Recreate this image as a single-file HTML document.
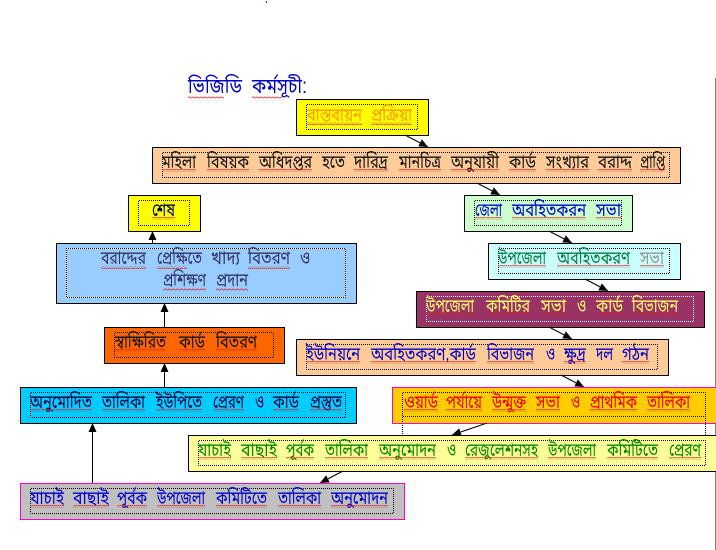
<!DOCTYPE html>
<html><head><meta charset="utf-8"><style>
html,body{margin:0;padding:0;background:#fff}
svg{display:block}
text{font-family:"Liberation Sans","Noto Sans Bengali","Lohit Bengali","FreeSans","DejaVu Sans",sans-serif;font-size:18px}
.b{stroke:#000;stroke-width:1}
.d{fill:none;stroke:#000;stroke-width:1;stroke-dasharray:1 1;stroke-dashoffset:1.5}
.dw{fill:none;stroke:#fff;stroke-width:1;stroke-dasharray:1 1;stroke-dashoffset:1.5}
.a{stroke:#000;stroke-width:1}
.w{fill:url(#wv)}
</style></head><body>
<svg width="716" height="550" viewBox="0 0 716 550" xmlns="http://www.w3.org/2000/svg">
<defs>
<pattern id="wv" width="4" height="3" patternUnits="userSpaceOnUse"><path d="M0 2L1 1L2 1L3 2L4 2" fill="none" stroke="#e02020" stroke-width=".8"/></pattern>
<marker id="ah" markerWidth="10" markerHeight="9" refX="9" refY="4" orient="auto" markerUnits="userSpaceOnUse"><path d="M0 0L9 4L0 8Z" fill="#000"/></marker>
</defs>
<line x1="715.5" y1="78" x2="715.5" y2="550" stroke="#000" stroke-width="1" stroke-dasharray="1 1" stroke-dashoffset="1.5"/>
<rect x="266" y="1" width="1" height="2" fill="#33c"/>

<g fill="#00c">
<text x="188" y="93" style="font-size:21px" textLength="54" lengthAdjust="spacingAndGlyphs">ভিজিডি</text>
<text x="252" y="93" style="font-size:21px" textLength="55" lengthAdjust="spacingAndGlyphs">কর্মসূচী:</text>
</g>
<rect class="w" x="188" y="96" width="36" height="3"/><rect class="w" x="252" y="96" width="30" height="3"/>

<rect class="b" x="296.5" y="99.5" width="132" height="36" fill="#ff0"/>
<rect class="d" x="306.5" y="104.5" width="111" height="25"/>
<rect class="b" x="152.5" y="147.5" width="528" height="36" fill="#fc9"/>
<rect class="d" x="162.5" y="152.5" width="507" height="25"/>
<rect class="b" x="128.5" y="195.5" width="72" height="36" fill="#ff0"/>
<rect class="d" x="138.5" y="200.5" width="51" height="25"/>
<rect class="b" x="464.5" y="195.5" width="168" height="36" fill="#cfc"/>
<rect class="d" x="474.5" y="200.5" width="147" height="25"/>
<rect class="b" x="488.5" y="243.5" width="192" height="36" fill="#cff"/>
<rect class="d" x="498.5" y="248.5" width="171" height="25"/>
<rect class="b" x="56.5" y="243.5" width="300" height="60" fill="#9cf"/>
<rect class="dw" x="66.5" y="248.5" width="279" height="49"/>
<rect class="d" x="66.5" y="248.5" width="279" height="49" stroke-dashoffset=".5" style="stroke-dashoffset:.5"/>
<rect class="b" x="416.5" y="291.5" width="288" height="36" fill="#936"/>
<rect class="dw" x="426.5" y="296.5" width="267" height="25"/>
<rect class="b" x="296.5" y="339.5" width="372" height="36" fill="#fc9"/>
<rect class="d" x="306.5" y="344.5" width="351" height="25"/>
<rect class="b" x="104.5" y="327.5" width="180" height="36" fill="#f60"/>
<rect class="d" x="114.5" y="332.5" width="159" height="25"/>
<rect class="b" x="20.5" y="387.5" width="336" height="36" fill="#0cf"/>
<rect class="d" x="30.5" y="392.5" width="315" height="25"/>
<rect x="392.5" y="387.5" width="330" height="36" fill="#fc0" stroke="#f0c" stroke-width="1"/>
<rect class="d" x="402.5" y="392.5" width="303" height="48"/>
<line x1="402.5" y1="416.5" x2="705.5" y2="416.5" stroke="#000" stroke-dasharray="1 1" stroke-dashoffset="1.5"/>
<rect class="b" x="188.5" y="435.5" width="535" height="36" fill="#ff9"/>
<rect class="d" x="198.5" y="440.5" width="507" height="25"/>
<rect x="20.5" y="483.5" width="384" height="36" fill="#c0c0c0" stroke="#f0c" stroke-width="1"/>
<rect class="d" x="30.5" y="488.5" width="363" height="25"/>

<g class="a">
<line x1="405" y1="135" x2="428" y2="147" marker-end="url(#ah)"/>
<line x1="477" y1="183" x2="500" y2="195" marker-end="url(#ah)"/>
<line x1="549" y1="231" x2="572" y2="243" marker-end="url(#ah)"/>
<line x1="585" y1="279" x2="608" y2="291" marker-end="url(#ah)"/>
<line x1="549" y1="327" x2="572" y2="339" marker-end="url(#ah)"/>
<line x1="561" y1="375" x2="584" y2="387" marker-end="url(#ah)"/>
<line x1="487" y1="423" x2="452" y2="435" marker-end="url(#ah)"/>
<line x1="343" y1="471" x2="320" y2="483" marker-end="url(#ah)"/>
<line x1="92.5" y1="483" x2="92.5" y2="423" marker-end="url(#ah)"/>
<line x1="164.5" y1="387" x2="164.5" y2="363" marker-end="url(#ah)"/>
<line x1="164.5" y1="327" x2="164.5" y2="303" marker-end="url(#ah)"/>
<line x1="152.5" y1="243" x2="152.5" y2="231" marker-end="url(#ah)"/>
</g>

<g>
<g fill="#f90">
<text x="307" y="121" textLength="55" lengthAdjust="spacingAndGlyphs">বাস্তবায়ন</text>
<text x="371" y="121" textLength="41" lengthAdjust="spacingAndGlyphs">প্রক্রিয়া</text>
</g>
<g fill="#111">
<text x="162" y="168" textLength="34" lengthAdjust="spacingAndGlyphs">মহিলা</text>
<text x="207" y="168" textLength="42" lengthAdjust="spacingAndGlyphs">বিষয়ক</text>
<text x="259" y="168" textLength="53" lengthAdjust="spacingAndGlyphs">অধিদপ্তর</text>
<text x="322" y="168" textLength="23" lengthAdjust="spacingAndGlyphs">হতে</text>
<text x="354" y="168" textLength="34" lengthAdjust="spacingAndGlyphs">দারিদ্র</text>
<text x="399" y="168" textLength="42" lengthAdjust="spacingAndGlyphs">মানচিত্র</text>
<text x="451" y="168" textLength="48" lengthAdjust="spacingAndGlyphs">অনুযায়ী</text>
<text x="509" y="168" textLength="27" lengthAdjust="spacingAndGlyphs">কার্ড</text>
<text x="546" y="168" textLength="43" lengthAdjust="spacingAndGlyphs">সংখ্যার</text>
<text x="598" y="168" textLength="34" lengthAdjust="spacingAndGlyphs">বরাদ্দ</text>
<text x="640" y="168" textLength="25" lengthAdjust="spacingAndGlyphs">প্রাপ্তি</text>
<text x="115" y="348" textLength="51" lengthAdjust="spacingAndGlyphs">স্বাক্ষিরিত</text>
<text x="179" y="348" textLength="26" lengthAdjust="spacingAndGlyphs">কার্ড</text>
<text x="216" y="348" textLength="41" lengthAdjust="spacingAndGlyphs">বিতরণ</text>
</g>
<g fill="#006">
<text x="152" y="216" textLength="23" lengthAdjust="spacingAndGlyphs">শেষ</text>
</g>
<g fill="#00c">
<text x="475" y="216" textLength="27" lengthAdjust="spacingAndGlyphs">জেলা</text>
<text x="512" y="216" textLength="74" lengthAdjust="spacingAndGlyphs">অবহিতকরন</text>
<text x="596" y="216" textLength="25" lengthAdjust="spacingAndGlyphs">সভা</text>
<text x="306" y="360" textLength="54" lengthAdjust="spacingAndGlyphs">ইউনিয়নে</text>
<text x="371" y="360" textLength="105" lengthAdjust="spacingAndGlyphs">অবহিতকরণ,কার্ড</text>
<text x="487" y="360" textLength="47" lengthAdjust="spacingAndGlyphs">বিভাজন</text>
<text x="546" y="360" textLength="9" lengthAdjust="spacingAndGlyphs">ও</text>
<text x="564" y="360" textLength="22" lengthAdjust="spacingAndGlyphs">ক্ষুদ্র</text>
<text x="596" y="360" textLength="17" lengthAdjust="spacingAndGlyphs">দল</text>
<text x="622" y="360" textLength="27" lengthAdjust="spacingAndGlyphs">গঠন</text>
<text x="30" y="504" textLength="34" lengthAdjust="spacingAndGlyphs">যাচাই</text>
<text x="73" y="504" textLength="36" lengthAdjust="spacingAndGlyphs">বাছাই</text>
<text x="117" y="504" textLength="30" lengthAdjust="spacingAndGlyphs">পূর্বক</text>
<text x="157" y="504" textLength="48" lengthAdjust="spacingAndGlyphs">উপজেলা</text>
<text x="216" y="504" textLength="51" lengthAdjust="spacingAndGlyphs">কমিটিতে</text>
<text x="278" y="504" textLength="43" lengthAdjust="spacingAndGlyphs">তালিকা</text>
<text x="331" y="504" textLength="57" lengthAdjust="spacingAndGlyphs">অনুমোদন</text>
</g>
<g fill="#008040">
<text x="498" y="264" textLength="48" lengthAdjust="spacingAndGlyphs">উপজেলা</text>
<text x="557" y="264" textLength="73" lengthAdjust="spacingAndGlyphs">অবহিতকরণ</text>
</g>
<text x="640" y="264" fill="#969696" textLength="24" lengthAdjust="spacingAndGlyphs">সভা</text>
<g fill="#336">
<text x="101" y="264" textLength="45" lengthAdjust="spacingAndGlyphs">বরাদ্দের</text>
<text x="157" y="264" textLength="45" lengthAdjust="spacingAndGlyphs">প্রেক্ষিতে</text>
<text x="211" y="264" textLength="29" lengthAdjust="spacingAndGlyphs">খাদ্য</text>
<text x="248" y="264" textLength="42" lengthAdjust="spacingAndGlyphs">বিতরণ</text>
<text x="300" y="264" textLength="10" lengthAdjust="spacingAndGlyphs">ও</text>
<text x="163" y="286" textLength="43" lengthAdjust="spacingAndGlyphs">প্রশিক্ষণ</text>
<text x="216" y="286" textLength="32" lengthAdjust="spacingAndGlyphs">প্রদান</text>
</g>
<g fill="#ff6">
<text x="426" y="312" textLength="48" lengthAdjust="spacingAndGlyphs">উপজেলা</text>
<text x="486" y="312" textLength="44" lengthAdjust="spacingAndGlyphs">কমিটির</text>
<text x="541" y="312" textLength="25" lengthAdjust="spacingAndGlyphs">সভা</text>
<text x="577" y="312" textLength="9" lengthAdjust="spacingAndGlyphs">ও</text>
<text x="596" y="312" textLength="27" lengthAdjust="spacingAndGlyphs">কার্ড</text>
<text x="632" y="312" textLength="46" lengthAdjust="spacingAndGlyphs">বিভাজন</text>
</g>
<g fill="#004">
<text x="30" y="408" textLength="62" lengthAdjust="spacingAndGlyphs">অনুমোদিত</text>
<text x="102" y="408" textLength="43" lengthAdjust="spacingAndGlyphs">তালিকা</text>
<text x="156" y="408" textLength="46" lengthAdjust="spacingAndGlyphs">ইউপিতে</text>
<text x="213" y="408" textLength="31" lengthAdjust="spacingAndGlyphs">প্রেরণ</text>
<text x="255" y="408" textLength="9" lengthAdjust="spacingAndGlyphs">ও</text>
<text x="273" y="408" textLength="26" lengthAdjust="spacingAndGlyphs">কার্ড</text>
<text x="310" y="408" textLength="32" lengthAdjust="spacingAndGlyphs">প্রস্তুত</text>
</g>
<g fill="#e00">
<text x="404" y="408" textLength="34" lengthAdjust="spacingAndGlyphs">ওয়ার্ড</text>
<text x="446" y="408" textLength="36" lengthAdjust="spacingAndGlyphs">পর্যায়ে</text>
<text x="492" y="408" textLength="34" lengthAdjust="spacingAndGlyphs">উন্মুক্ত</text>
<text x="536" y="408" textLength="24" lengthAdjust="spacingAndGlyphs">সভা</text>
<text x="571" y="408" textLength="9" lengthAdjust="spacingAndGlyphs">ও</text>
<text x="590" y="408" textLength="47" lengthAdjust="spacingAndGlyphs">প্রাথমিক</text>
<text x="647" y="408" textLength="43" lengthAdjust="spacingAndGlyphs">তালিকা</text>
</g>
<g fill="#080">
<text x="198" y="456" textLength="33" lengthAdjust="spacingAndGlyphs">যাচাই</text>
<text x="241" y="456" textLength="36" lengthAdjust="spacingAndGlyphs">বাছাই</text>
<text x="286" y="456" textLength="28" lengthAdjust="spacingAndGlyphs">পূর্বক</text>
<text x="325" y="456" textLength="43" lengthAdjust="spacingAndGlyphs">তালিকা</text>
<text x="379" y="456" textLength="57" lengthAdjust="spacingAndGlyphs">অনুমোদন</text>
<text x="447" y="456" textLength="9" lengthAdjust="spacingAndGlyphs">ও</text>
<text x="465" y="456" textLength="73" lengthAdjust="spacingAndGlyphs">রেজুলেশনসহ</text>
<text x="548" y="456" textLength="48" lengthAdjust="spacingAndGlyphs">উপজেলা</text>
<text x="607" y="456" textLength="51" lengthAdjust="spacingAndGlyphs">কমিটিতে</text>
<text x="669" y="456" textLength="32" lengthAdjust="spacingAndGlyphs">প্রেরণ</text>
</g>
</g>

<rect class="w" x="307" y="122" width="55" height="3"/><rect class="w" x="371" y="122" width="41" height="3"/>
<rect class="w" x="162" y="169" width="34" height="3"/><rect class="w" x="207" y="169" width="42" height="3"/><rect class="w" x="259" y="169" width="53" height="3"/><rect class="w" x="354" y="169" width="34" height="3"/><rect class="w" x="399" y="169" width="42" height="3"/><rect class="w" x="451" y="169" width="48" height="3"/><rect class="w" x="509" y="169" width="27" height="3"/><rect class="w" x="546" y="169" width="43" height="3"/><rect class="w" x="598" y="169" width="34" height="3"/><rect class="w" x="640" y="169" width="25" height="3"/>
<rect class="w" x="152" y="217" width="23" height="3"/>
<rect class="w" x="475" y="217" width="27" height="3"/><rect class="w" x="512" y="217" width="74" height="3"/><rect class="w" x="596" y="217" width="25" height="3"/>
<rect class="w" x="498" y="265" width="48" height="3"/><rect class="w" x="557" y="265" width="73" height="3"/><rect class="w" x="640" y="265" width="24" height="3"/>
<rect class="w" x="101" y="266" width="45" height="3"/><rect class="w" x="157" y="266" width="30" height="3"/><rect class="w" x="248" y="266" width="42" height="3"/>
<rect class="w" x="163" y="288" width="43" height="3"/><rect class="w" x="216" y="288" width="32" height="3"/>
<rect class="w" x="426" y="313" width="48" height="3"/><rect class="w" x="486" y="313" width="44" height="3"/><rect class="w" x="541" y="313" width="25" height="3"/><rect class="w" x="596" y="313" width="27" height="3"/><rect class="w" x="632" y="313" width="46" height="3"/>
<rect class="w" x="115" y="349" width="51" height="3"/><rect class="w" x="179" y="349" width="26" height="3"/><rect class="w" x="216" y="349" width="41" height="3"/>
<rect class="w" x="306" y="361" width="54" height="3"/><rect class="w" x="371" y="361" width="105" height="3"/><rect class="w" x="487" y="361" width="47" height="3"/><rect class="w" x="564" y="361" width="22" height="3"/><rect class="w" x="622" y="361" width="27" height="3"/>
<rect class="w" x="30" y="409" width="62" height="3"/><rect class="w" x="102" y="409" width="43" height="3"/><rect class="w" x="156" y="409" width="46" height="3"/><rect class="w" x="213" y="409" width="31" height="3"/><rect class="w" x="273" y="409" width="26" height="3"/><rect class="w" x="310" y="409" width="32" height="3"/>
<rect class="w" x="404" y="409" width="34" height="3"/><rect class="w" x="446" y="409" width="36" height="3"/><rect class="w" x="492" y="409" width="34" height="3"/><rect class="w" x="536" y="409" width="24" height="3"/><rect class="w" x="590" y="409" width="47" height="3"/><rect class="w" x="647" y="409" width="43" height="3"/>
<rect class="w" x="198" y="457" width="33" height="3"/><rect class="w" x="241" y="457" width="36" height="3"/><rect class="w" x="286" y="457" width="28" height="3"/><rect class="w" x="325" y="457" width="43" height="3"/><rect class="w" x="379" y="457" width="57" height="3"/><rect class="w" x="465" y="457" width="73" height="3"/><rect class="w" x="548" y="457" width="48" height="3"/><rect class="w" x="607" y="457" width="51" height="3"/><rect class="w" x="669" y="457" width="32" height="3"/>
<rect class="w" x="30" y="505" width="34" height="3"/><rect class="w" x="73" y="505" width="36" height="3"/><rect class="w" x="117" y="505" width="30" height="3"/><rect class="w" x="157" y="505" width="48" height="3"/><rect class="w" x="216" y="505" width="51" height="3"/><rect class="w" x="278" y="505" width="43" height="3"/><rect class="w" x="331" y="505" width="57" height="3"/>
</svg>
</body></html>
